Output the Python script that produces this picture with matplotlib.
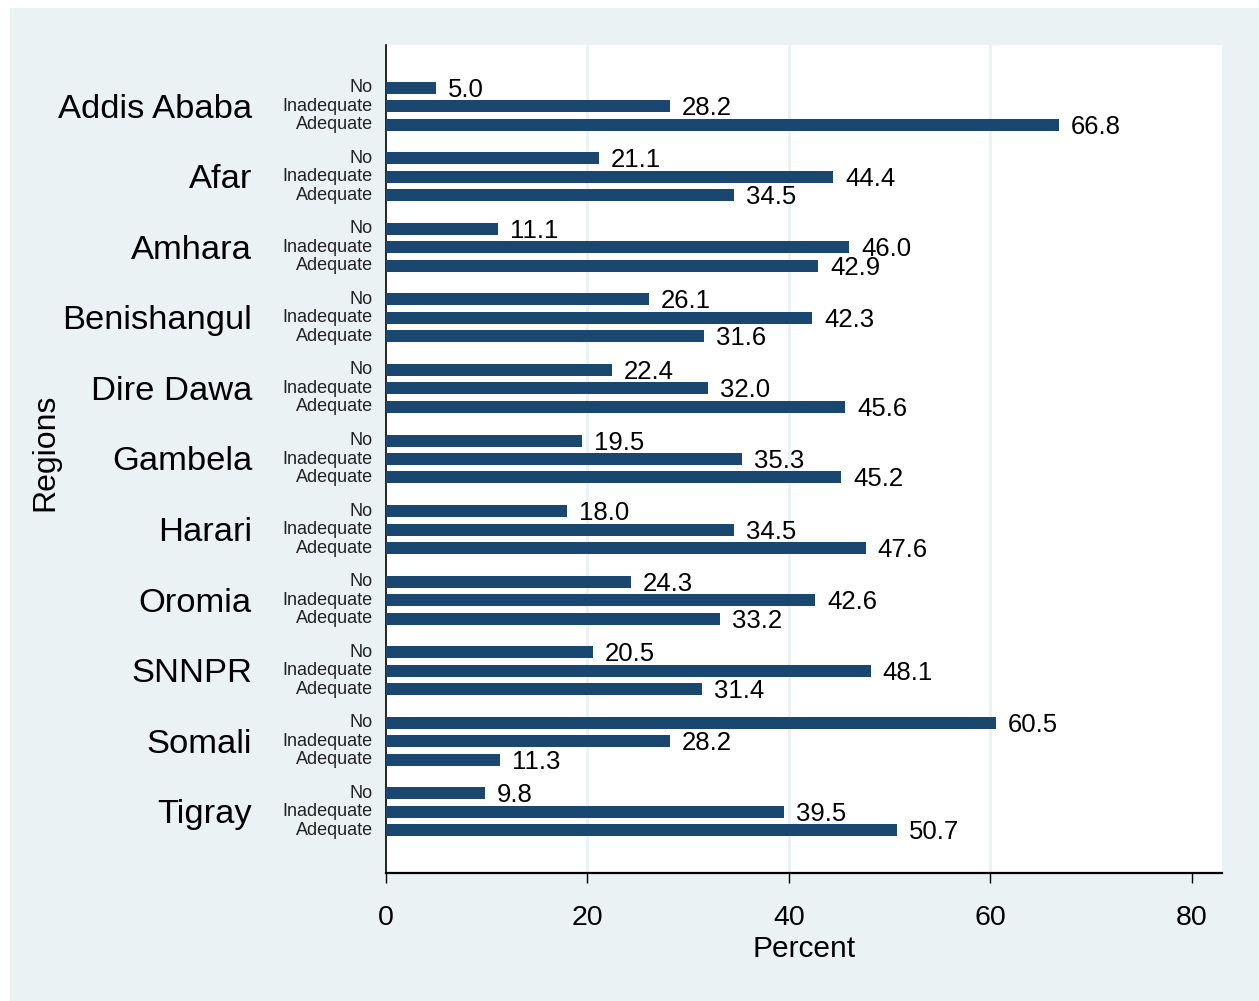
# Horizontal grouped bar chart: water adequacy by region (Stata s2color look)
import numpy as np
import matplotlib.pyplot as plt
from matplotlib.patches import Rectangle

regions = ["Addis Ababa", "Afar", "Amhara", "Benishangul", "Dire Dawa",
           "Gambela", "Harari", "Oromia", "SNNPR", "Somali", "Tigray"]
levels = ["No", "Inadequate", "Adequate"]
no_vals = [5.0, 21.1, 11.1, 26.1, 22.4, 19.5, 18.0, 24.3, 20.5, 60.5, 9.8]
inadequate_vals = [28.2, 44.4, 46.0, 42.3, 32.0, 35.3, 34.5, 42.6, 48.1, 28.2, 39.5]
adequate_vals = [66.8, 34.5, 42.9, 31.6, 45.6, 45.2, 47.6, 33.2, 31.4, 11.3, 50.7]
xticks = [0, 20, 40, 60, 80]

FONT = ["Liberation Sans", "DejaVu Sans"]
BG = "#EAF2F3"
NAVY = "#1A476F"

fig = plt.figure(figsize=(12.59, 10.01), dpi=100)
fig.patch.set_facecolor("white")
fig.patches.append(Rectangle((10 / 1259, 0), 1 - 10 / 1259, 1 - 8 / 1001,
                             transform=fig.transFigure, facecolor=BG,
                             edgecolor="none", zorder=-5))

ax = fig.add_axes([386 / 1259, 128 / 1001, 836 / 1259, 828 / 1001])
ax.set_facecolor("white")

GROUP = 3.82
vals = [no_vals, inadequate_vals, adequate_vals]
for g, reg in enumerate(regions):
    base = g * GROUP
    for k, lev in enumerate(levels):
        y = base + k
        v = vals[k][g]
        ax.barh(y, v, height=0.65, color=NAVY, zorder=3)
        ax.annotate(f"{v:.1f}", (v, y), xytext=(12, -2), textcoords="offset pixels",
                    ha="left", va="center", fontsize=18.5, family=FONT, zorder=4)
        ax.annotate(lev, (0, y), xycoords=("axes fraction", "data"),
                    xytext=(-13, 0), textcoords="offset pixels",
                    ha="right", va="center", fontsize=13, family=FONT,
                    color="#222222")
    ax.annotate(reg, (0, base + 1), xycoords=("axes fraction", "data"),
                xytext=(-134, -3), textcoords="offset pixels",
                ha="right", va="center", fontsize=24.8, family=FONT)

ax.set_ylim(10 * GROUP + 2 + 2.32, -2.32)
ax.set_yticks([])
ax.set_xlim(0, 82.98)
ax.set_xticks(xticks)
ax.set_xticklabels([str(t) for t in xticks], fontsize=20.5, family=FONT)
ax.tick_params(axis="x", direction="out", length=7, width=1.0, pad=16, color="black")
for t in [20, 40, 60]:
    ax.axvline(t, color=BG, lw=2.2, zorder=1)

for side in ["top", "right"]:
    ax.spines[side].set_visible(False)
ax.spines["left"].set_linewidth(1.2)
ax.spines["bottom"].set_linewidth(1.6)

ax.set_xlabel("Percent", fontsize=21.5, family=FONT, labelpad=3)
fig.text(45 / 1259, 1 - 452 / 1001, "Regions", rotation=90, ha="center",
         va="center", fontsize=23, family=FONT)

fig.savefig("out.png", dpi=100)
